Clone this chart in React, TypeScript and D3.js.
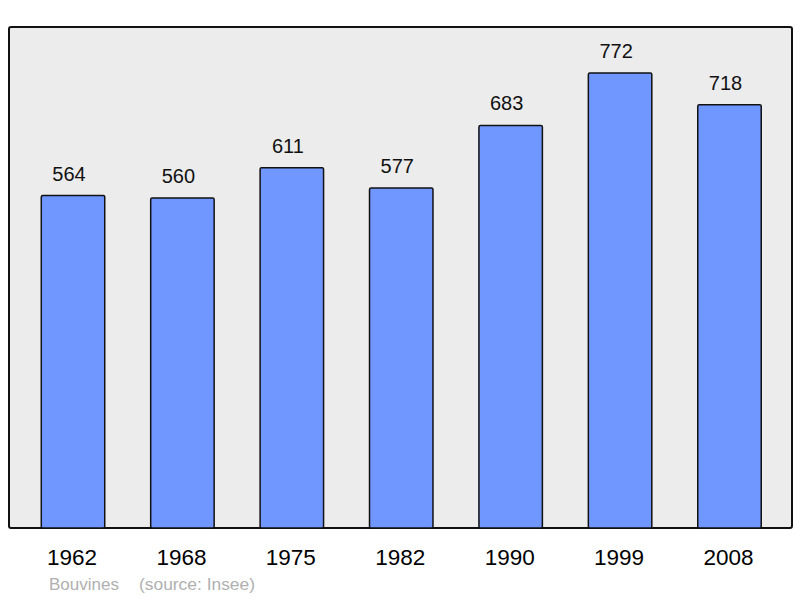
import React from "react";
import * as d3 from "d3";

const years = ["1962", "1968", "1975", "1982", "1990", "1999", "2008"];
const population = [564, 560, 611, 577, 683, 772, 718];
const footerName = "Bouvines";
const footerSource = "(source: Insee)";

export default function App() {
  const W = 800, H = 598;
  const panel = { x: 9, y: 27, w: 783, h: 501 };
  const x = d3.scaleBand<string>().domain(years).range([18.3, 784.2]).paddingInner(0.42).paddingOuter(0.21);
  const y = d3.scaleLinear().domain([0, 850]).range([528, 27]);
  const font = "'Liberation Sans', Arial, sans-serif";
  return (
    <svg width={W} height={H} style={{ position: "absolute", left: 0, top: 0 }} fontFamily={font}>
      <rect x={panel.x} y={panel.y} width={panel.w} height={panel.h} rx={2} fill="#ececec" stroke="#111" strokeWidth={2} />
      {years.map((yr, i) => {
        const bx = x(yr)!;
        const bw = x.bandwidth();
        const top = y(population[i]);
        return (
          <g key={yr}>
            <rect x={bx} y={top} width={bw} height={y(0) - top} rx={1.5} fill="#7096ff" stroke="#111" strokeWidth={1.5} />
            <text x={bx + bw / 2 - 4} y={top - 15} textAnchor="middle" fontSize={20} fill="#111">{population[i]}</text>
            <text x={bx + bw / 2 - 1} y={565} textAnchor="middle" fontSize={22.5} fill="#000">{yr}</text>
          </g>
        );
      })}
      <text x={49} y={590} fontSize={17} fill="#b0b0b0">{footerName}</text>
      <text x={139} y={590} fontSize={17.4} fill="#b0b0b0">{footerSource}</text>
    </svg>
  );
}
